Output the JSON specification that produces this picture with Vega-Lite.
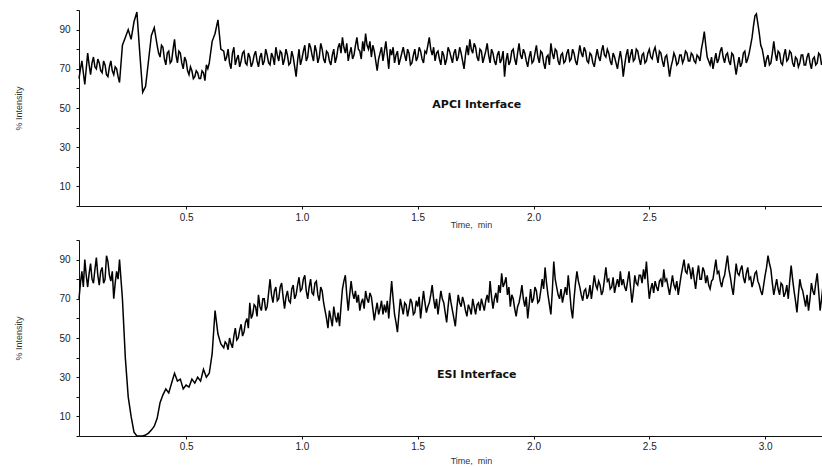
{
"$schema": "https://vega.github.io/schema/vega-lite/v6.json",
"background": "white",
"padding": {"left": 14, "top": 5, "right": 0, "bottom": 0},
"spacing": 6,
"config": {
 "view": {"stroke": null},
 "axis": {"grid": false, "domainColor": "#111", "tickColor": "#111", "domainWidth": 1, "tickWidth": 1, "tickSize": 3,
  "labelFont": "Liberation Sans", "labelFontSize": 10, "labelColor": "#222",
  "titleFont": "Liberation Sans", "titleFontWeight": "normal", "titleFontSize": 9, "titleColor": "#333"}
},
"datasets": {
"apci": [
{"t":0.0375,"v":65},{"t":0.04375,"v":70},{"t":0.05,"v":74},{"t":0.05625,"v":68},{"t":0.0625,"v":62},{"t":0.06875,"v":70},{"t":0.075,"v":78},{"t":0.08125,"v":72},{"t":0.0875,"v":67},{"t":0.09375,"v":73},
{"t":0.1,"v":76},{"t":0.10625,"v":71},{"t":0.1125,"v":70},{"t":0.11875,"v":75},{"t":0.125,"v":73},{"t":0.13125,"v":69},{"t":0.1375,"v":68},{"t":0.14375,"v":74},{"t":0.15,"v":72},{"t":0.15625,"v":67},
{"t":0.1625,"v":66},{"t":0.16875,"v":71},{"t":0.175,"v":74},{"t":0.18125,"v":69},{"t":0.1875,"v":67},{"t":0.19375,"v":71},{"t":0.2,"v":70},{"t":0.20625,"v":66},{"t":0.2125,"v":63},
{"t":0.225,"v":82},{"t":0.2375,"v":86},{"t":0.25,"v":90},{"t":0.2625,"v":85},{"t":0.275,"v":94},
{"t":0.2875,"v":99},{"t":0.3,"v":78},{"t":0.3125,"v":58},{"t":0.325,"v":61},{"t":0.3375,"v":74},{"t":0.35,"v":87},{"t":0.3625,"v":91},
{"t":0.375,"v":82},{"t":0.38125,"v":78},{"t":0.3875,"v":76},{"t":0.39375,"v":82},{"t":0.4,"v":81},{"t":0.40625,"v":75},{"t":0.4125,"v":72},{"t":0.41875,"v":78},{"t":0.425,"v":79},{"t":0.43125,"v":73},
{"t":0.4375,"v":74},{"t":0.44375,"v":80},{"t":0.45,"v":85},{"t":0.45625,"v":77},{"t":0.4625,"v":73},{"t":0.46875,"v":79},{"t":0.475,"v":78},{"t":0.48125,"v":73},{"t":0.4875,"v":70},{"t":0.49375,"v":76},
{"t":0.5,"v":74},{"t":0.50625,"v":69},{"t":0.5125,"v":67},{"t":0.51875,"v":71},{"t":0.525,"v":69},{"t":0.53125,"v":65},{"t":0.5375,"v":66},{"t":0.54375,"v":69},{"t":0.55,"v":68},{"t":0.55625,"v":65},
{"t":0.5625,"v":65},{"t":0.56875,"v":69},{"t":0.575,"v":68},{"t":0.58125,"v":64},{"t":0.5875,"v":72},{"t":0.59375,"v":70},{"t":0.6,"v":73},
{"t":0.6125,"v":84},{"t":0.625,"v":88},{"t":0.6375,"v":95},{"t":0.65,"v":80},
{"t":0.6625,"v":79},{"t":0.66875,"v":74},{"t":0.675,"v":76},{"t":0.68125,"v":80},{"t":0.6875,"v":73},{"t":0.69375,"v":70},{"t":0.7,"v":78},{"t":0.70625,"v":81},{"t":0.7125,"v":72},{"t":0.71875,"v":75},
{"t":0.725,"v":77},{"t":0.73125,"v":71},{"t":0.7375,"v":74},{"t":0.74375,"v":78},{"t":0.75,"v":79},{"t":0.75625,"v":73},{"t":0.7625,"v":72},{"t":0.76875,"v":78},{"t":0.775,"v":76},{"t":0.78125,"v":71},
{"t":0.7875,"v":73},{"t":0.79375,"v":77},{"t":0.8,"v":79},{"t":0.80625,"v":74},{"t":0.8125,"v":71},{"t":0.81875,"v":76},{"t":0.825,"v":78},{"t":0.83125,"v":72},{"t":0.8375,"v":74},{"t":0.84375,"v":80},
{"t":0.85,"v":77},{"t":0.85625,"v":73},{"t":0.8625,"v":72},{"t":0.86875,"v":78},{"t":0.875,"v":76},{"t":0.88125,"v":72},{"t":0.8875,"v":81},{"t":0.89375,"v":77},{"t":0.9,"v":74},{"t":0.90625,"v":79},
{"t":0.9125,"v":78},{"t":0.91875,"v":72},{"t":0.925,"v":75},{"t":0.93125,"v":80},{"t":0.9375,"v":77},{"t":0.94375,"v":72},{"t":0.95,"v":73},{"t":0.95625,"v":79},{"t":0.9625,"v":76},{"t":0.96875,"v":71},
{"t":0.975,"v":66},{"t":0.98125,"v":74},{"t":0.9875,"v":80},{"t":0.99375,"v":72},{"t":1.0,"v":75},{"t":1.00625,"v":79},{"t":1.0125,"v":82},{"t":1.01875,"v":74},{"t":1.025,"v":76},{"t":1.03125,"v":83},
{"t":1.0375,"v":81},{"t":1.04375,"v":77},{"t":1.05,"v":74},{"t":1.05625,"v":82},{"t":1.0625,"v":79},{"t":1.06875,"v":73},{"t":1.075,"v":76},{"t":1.08125,"v":83},{"t":1.0875,"v":80},{"t":1.09375,"v":75},
{"t":1.1,"v":73},{"t":1.10625,"v":79},{"t":1.1125,"v":78},{"t":1.11875,"v":74},{"t":1.125,"v":72},{"t":1.13125,"v":77},{"t":1.1375,"v":80},{"t":1.14375,"v":73},{"t":1.15,"v":76},{"t":1.15625,"v":81},
{"t":1.1625,"v":83},{"t":1.16875,"v":78},{"t":1.175,"v":86},{"t":1.18125,"v":81},{"t":1.1875,"v":78},{"t":1.19375,"v":83},{"t":1.2,"v":74},{"t":1.20625,"v":78},{"t":1.2125,"v":81},{"t":1.21875,"v":75},
{"t":1.225,"v":77},{"t":1.23125,"v":82},{"t":1.2375,"v":86},{"t":1.24375,"v":80},{"t":1.25,"v":79},{"t":1.25625,"v":75},{"t":1.2625,"v":84},{"t":1.26875,"v":79},{"t":1.275,"v":88},{"t":1.28125,"v":82},
{"t":1.2875,"v":80},{"t":1.29375,"v":84},{"t":1.3,"v":76},{"t":1.30625,"v":82},{"t":1.3125,"v":79},{"t":1.31875,"v":74},{"t":1.325,"v":69},{"t":1.33125,"v":75},{"t":1.3375,"v":78},{"t":1.34375,"v":81},
{"t":1.35,"v":74},{"t":1.35625,"v":79},{"t":1.3625,"v":84},{"t":1.36875,"v":77},{"t":1.375,"v":70},{"t":1.38125,"v":80},{"t":1.3875,"v":77},{"t":1.39375,"v":81},{"t":1.4,"v":73},{"t":1.40625,"v":77},
{"t":1.4125,"v":79},{"t":1.41875,"v":72},{"t":1.425,"v":75},{"t":1.43125,"v":78},{"t":1.4375,"v":81},{"t":1.44375,"v":77},{"t":1.45,"v":74},{"t":1.45625,"v":80},{"t":1.4625,"v":78},{"t":1.46875,"v":72},
{"t":1.475,"v":73},{"t":1.48125,"v":77},{"t":1.4875,"v":80},{"t":1.49375,"v":74},{"t":1.5,"v":76},{"t":1.50625,"v":81},{"t":1.5125,"v":79},{"t":1.51875,"v":75},{"t":1.525,"v":73},{"t":1.53125,"v":79},
{"t":1.5375,"v":78},{"t":1.54375,"v":82},{"t":1.55,"v":86},{"t":1.55625,"v":80},{"t":1.5625,"v":77},{"t":1.56875,"v":81},{"t":1.575,"v":74},{"t":1.58125,"v":78},{"t":1.5875,"v":79},{"t":1.59375,"v":75},
{"t":1.6,"v":72},{"t":1.60625,"v":79},{"t":1.6125,"v":77},{"t":1.61875,"v":72},{"t":1.625,"v":75},{"t":1.63125,"v":81},{"t":1.6375,"v":79},{"t":1.64375,"v":76},{"t":1.65,"v":73},{"t":1.65625,"v":78},
{"t":1.6625,"v":80},{"t":1.66875,"v":74},{"t":1.675,"v":76},{"t":1.68125,"v":81},{"t":1.6875,"v":78},{"t":1.69375,"v":74},{"t":1.7,"v":70},{"t":1.70625,"v":77},{"t":1.7125,"v":82},{"t":1.71875,"v":77},
{"t":1.725,"v":85},{"t":1.73125,"v":80},{"t":1.7375,"v":78},{"t":1.74375,"v":83},{"t":1.75,"v":81},{"t":1.75625,"v":76},{"t":1.7625,"v":74},{"t":1.76875,"v":80},{"t":1.775,"v":79},{"t":1.78125,"v":73},
{"t":1.7875,"v":76},{"t":1.79375,"v":79},{"t":1.8,"v":83},{"t":1.80625,"v":77},{"t":1.8125,"v":73},{"t":1.81875,"v":80},{"t":1.825,"v":78},{"t":1.83125,"v":74},{"t":1.8375,"v":72},{"t":1.84375,"v":77},
{"t":1.85,"v":79},{"t":1.85625,"v":73},{"t":1.8625,"v":75},{"t":1.86875,"v":79},{"t":1.875,"v":66},{"t":1.88125,"v":74},{"t":1.8875,"v":78},{"t":1.89375,"v":72},{"t":1.9,"v":74},{"t":1.90625,"v":79},
{"t":1.9125,"v":80},{"t":1.91875,"v":75},{"t":1.925,"v":72},{"t":1.93125,"v":78},{"t":1.9375,"v":83},{"t":1.94375,"v":77},{"t":1.95,"v":75},{"t":1.95625,"v":80},{"t":1.9625,"v":78},{"t":1.96875,"v":74},
{"t":1.975,"v":71},{"t":1.98125,"v":76},{"t":1.9875,"v":79},{"t":1.99375,"v":73},{"t":2.0,"v":74},{"t":2.00625,"v":78},{"t":2.0125,"v":82},{"t":2.01875,"v":76},{"t":2.025,"v":73},{"t":2.03125,"v":79},
{"t":2.0375,"v":78},{"t":2.04375,"v":73},{"t":2.05,"v":70},{"t":2.05625,"v":76},{"t":2.0625,"v":77},{"t":2.06875,"v":72},{"t":2.075,"v":83},{"t":2.08125,"v":78},{"t":2.0875,"v":75},{"t":2.09375,"v":80},
{"t":2.1,"v":79},{"t":2.10625,"v":74},{"t":2.1125,"v":72},{"t":2.11875,"v":77},{"t":2.125,"v":78},{"t":2.13125,"v":73},{"t":2.1375,"v":74},{"t":2.14375,"v":78},{"t":2.15,"v":80},{"t":2.15625,"v":74},
{"t":2.1625,"v":75},{"t":2.16875,"v":80},{"t":2.175,"v":78},{"t":2.18125,"v":74},{"t":2.1875,"v":72},{"t":2.19375,"v":77},{"t":2.2,"v":82},{"t":2.20625,"v":78},{"t":2.2125,"v":76},{"t":2.21875,"v":81},
{"t":2.225,"v":79},{"t":2.23125,"v":74},{"t":2.2375,"v":73},{"t":2.24375,"v":78},{"t":2.25,"v":77},{"t":2.25625,"v":73},{"t":2.2625,"v":71},{"t":2.26875,"v":76},{"t":2.275,"v":80},{"t":2.28125,"v":76},
{"t":2.2875,"v":74},{"t":2.29375,"v":79},{"t":2.3,"v":82},{"t":2.30625,"v":77},{"t":2.3125,"v":76},{"t":2.31875,"v":80},{"t":2.325,"v":78},{"t":2.33125,"v":74},{"t":2.3375,"v":72},{"t":2.34375,"v":78},
{"t":2.35,"v":76},{"t":2.35625,"v":73},{"t":2.3625,"v":70},{"t":2.36875,"v":75},{"t":2.375,"v":79},{"t":2.38125,"v":74},{"t":2.3875,"v":66},{"t":2.39375,"v":72},{"t":2.4,"v":77},{"t":2.40625,"v":80},
{"t":2.4125,"v":73},{"t":2.41875,"v":77},{"t":2.425,"v":80},{"t":2.43125,"v":74},{"t":2.4375,"v":75},{"t":2.44375,"v":80},{"t":2.45,"v":79},{"t":2.45625,"v":75},{"t":2.4625,"v":72},{"t":2.46875,"v":77},
{"t":2.475,"v":78},{"t":2.48125,"v":73},{"t":2.4875,"v":74},{"t":2.49375,"v":78},{"t":2.5,"v":80},{"t":2.50625,"v":76},{"t":2.5125,"v":75},{"t":2.51875,"v":79},{"t":2.525,"v":81},{"t":2.53125,"v":77},
{"t":2.5375,"v":73},{"t":2.54375,"v":79},{"t":2.55,"v":78},{"t":2.55625,"v":74},{"t":2.5625,"v":71},{"t":2.56875,"v":76},{"t":2.575,"v":77},{"t":2.58125,"v":72},{"t":2.5875,"v":66},{"t":2.59375,"v":71},
{"t":2.6,"v":74},{"t":2.60625,"v":78},{"t":2.6125,"v":76},{"t":2.61875,"v":72},{"t":2.625,"v":73},{"t":2.63125,"v":77},{"t":2.6375,"v":77},{"t":2.64375,"v":73},{"t":2.65,"v":75},{"t":2.65625,"v":79},
{"t":2.6625,"v":78},{"t":2.66875,"v":74},{"t":2.675,"v":74},{"t":2.68125,"v":78},{"t":2.6875,"v":77},{"t":2.69375,"v":74},{"t":2.7,"v":73},{"t":2.70625,"v":77},{"t":2.7125,"v":76},{"t":2.71875,"v":74},
{"t":2.725,"v":80},{"t":2.73125,"v":84},{"t":2.7375,"v":89},{"t":2.74375,"v":82},{"t":2.75,"v":76},{"t":2.75625,"v":74},{"t":2.7625,"v":72},{"t":2.76875,"v":76},{"t":2.775,"v":70},{"t":2.78125,"v":74},
{"t":2.7875,"v":78},{"t":2.79375,"v":73},{"t":2.8,"v":75},{"t":2.80625,"v":79},{"t":2.8125,"v":81},{"t":2.81875,"v":76},{"t":2.825,"v":73},{"t":2.83125,"v":77},{"t":2.8375,"v":78},{"t":2.84375,"v":74},
{"t":2.85,"v":72},{"t":2.85625,"v":78},{"t":2.8625,"v":77},{"t":2.86875,"v":72},{"t":2.875,"v":67},{"t":2.88125,"v":72},{"t":2.8875,"v":76},{"t":2.89375,"v":71},{"t":2.9,"v":73},{"t":2.90625,"v":78},
{"t":2.9125,"v":79},{"t":2.91875,"v":73},{"t":2.925,"v":75},{"t":2.93125,"v":78},{"t":2.9375,"v":82},{"t":2.94375,"v":86},{"t":2.95,"v":92},{"t":2.95625,"v":97},{"t":2.9625,"v":98},{"t":2.96875,"v":93},
{"t":2.975,"v":88},{"t":2.98125,"v":82},{"t":2.9875,"v":80},{"t":2.99375,"v":76},{"t":3.0,"v":71},{"t":3.00625,"v":75},{"t":3.0125,"v":77},{"t":3.01875,"v":72},{"t":3.025,"v":73},{"t":3.03125,"v":78},
{"t":3.0375,"v":84},{"t":3.04375,"v":78},{"t":3.05,"v":74},{"t":3.05625,"v":79},{"t":3.0625,"v":78},{"t":3.06875,"v":73},{"t":3.075,"v":72},{"t":3.08125,"v":77},{"t":3.0875,"v":80},{"t":3.09375,"v":74},
{"t":3.1,"v":75},{"t":3.10625,"v":79},{"t":3.1125,"v":78},{"t":3.11875,"v":73},{"t":3.125,"v":71},{"t":3.13125,"v":76},{"t":3.1375,"v":75},{"t":3.14375,"v":71},{"t":3.15,"v":73},{"t":3.15625,"v":77},
{"t":3.1625,"v":77},{"t":3.16875,"v":72},{"t":3.175,"v":72},{"t":3.18125,"v":76},{"t":3.1875,"v":78},{"t":3.19375,"v":73},{"t":3.2,"v":70},{"t":3.20625,"v":75},{"t":3.2125,"v":76},{"t":3.21875,"v":72},
{"t":3.225,"v":73},{"t":3.23125,"v":78},{"t":3.2375,"v":77},{"t":3.24375,"v":72},{"t":3.25,"v":74}
],
"esi": [
{"t":0.0375,"v":70},{"t":0.04375,"v":78},{"t":0.05,"v":84},{"t":0.05625,"v":76},{"t":0.0625,"v":90},{"t":0.06875,"v":82},{"t":0.075,"v":76},{"t":0.08125,"v":83},{"t":0.0875,"v":88},{"t":0.09375,"v":80},
{"t":0.1,"v":78},{"t":0.10625,"v":85},{"t":0.1125,"v":91},{"t":0.11875,"v":82},{"t":0.125,"v":77},{"t":0.13125,"v":84},{"t":0.1375,"v":86},{"t":0.14375,"v":78},{"t":0.15,"v":80},{"t":0.15625,"v":92},
{"t":0.1625,"v":89},{"t":0.16875,"v":82},{"t":0.175,"v":79},{"t":0.18125,"v":84},{"t":0.1875,"v":70},{"t":0.19375,"v":78},{"t":0.2,"v":84},{"t":0.20625,"v":80},{"t":0.2125,"v":90},
{"t":0.225,"v":70},{"t":0.2375,"v":40},{"t":0.25,"v":20},{"t":0.2625,"v":10},{"t":0.275,"v":2},
{"t":0.2875,"v":0},{"t":0.3,"v":0},{"t":0.3125,"v":0},{"t":0.325,"v":0.5},{"t":0.3375,"v":1.5},{"t":0.35,"v":3},{"t":0.3625,"v":5},{"t":0.375,"v":9},{"t":0.3875,"v":17},{"t":0.4,"v":21},
{"t":0.4125,"v":24},{"t":0.425,"v":22},{"t":0.4375,"v":27},{"t":0.45,"v":32},{"t":0.4625,"v":28},{"t":0.475,"v":29},{"t":0.4875,"v":24},{"t":0.5,"v":26},{"t":0.5125,"v":25},{"t":0.525,"v":29},
{"t":0.5375,"v":27},{"t":0.55,"v":30},{"t":0.5625,"v":28},{"t":0.575,"v":34},{"t":0.5875,"v":30},{"t":0.6,"v":32},{"t":0.6125,"v":42},{"t":0.625,"v":64},{"t":0.6375,"v":52},{"t":0.65,"v":47},
{"t":0.6625,"v":45},{"t":0.66875,"v":48},{"t":0.675,"v":47},{"t":0.68125,"v":44},{"t":0.6875,"v":50},{"t":0.69375,"v":47},{"t":0.7,"v":45},{"t":0.70625,"v":51},{"t":0.7125,"v":55},{"t":0.71875,"v":49},
{"t":0.725,"v":50},{"t":0.73125,"v":54},{"t":0.7375,"v":57},{"t":0.74375,"v":51},{"t":0.75,"v":53},{"t":0.75625,"v":58},{"t":0.7625,"v":60},{"t":0.76875,"v":55},{"t":0.775,"v":68},{"t":0.78125,"v":60},
{"t":0.7875,"v":62},{"t":0.79375,"v":67},{"t":0.8,"v":66},{"t":0.80625,"v":61},{"t":0.8125,"v":72},{"t":0.81875,"v":66},{"t":0.825,"v":64},{"t":0.83125,"v":70},{"t":0.8375,"v":70},{"t":0.84375,"v":64},
{"t":0.85,"v":66},{"t":0.85625,"v":73},{"t":0.8625,"v":80},{"t":0.86875,"v":72},{"t":0.875,"v":68},{"t":0.88125,"v":74},{"t":0.8875,"v":76},{"t":0.89375,"v":69},{"t":0.9,"v":70},{"t":0.90625,"v":76},
{"t":0.9125,"v":78},{"t":0.91875,"v":71},{"t":0.925,"v":65},{"t":0.93125,"v":71},{"t":0.9375,"v":74},{"t":0.94375,"v":69},{"t":0.95,"v":68},{"t":0.95625,"v":75},{"t":0.9625,"v":77},{"t":0.96875,"v":70},
{"t":0.975,"v":72},{"t":0.98125,"v":77},{"t":0.9875,"v":81},{"t":0.99375,"v":74},{"t":1.0,"v":75},{"t":1.00625,"v":80},{"t":1.0125,"v":82},{"t":1.01875,"v":74},{"t":1.025,"v":70},{"t":1.03125,"v":76},
{"t":1.0375,"v":80},{"t":1.04375,"v":73},{"t":1.05,"v":72},{"t":1.05625,"v":78},{"t":1.0625,"v":79},{"t":1.06875,"v":72},{"t":1.075,"v":69},{"t":1.08125,"v":76},{"t":1.0875,"v":74},{"t":1.09375,"v":68},
{"t":1.1,"v":64},{"t":1.10625,"v":60},{"t":1.1125,"v":55},{"t":1.11875,"v":64},{"t":1.125,"v":60},{"t":1.13125,"v":56},{"t":1.1375,"v":66},{"t":1.14375,"v":61},{"t":1.15,"v":58},{"t":1.15625,"v":63},
{"t":1.1625,"v":56},{"t":1.16875,"v":66},{"t":1.175,"v":75},{"t":1.18125,"v":79},{"t":1.1875,"v":82},{"t":1.19375,"v":72},{"t":1.2,"v":64},{"t":1.20625,"v":72},{"t":1.2125,"v":79},{"t":1.21875,"v":73},
{"t":1.225,"v":70},{"t":1.23125,"v":74},{"t":1.2375,"v":68},{"t":1.24375,"v":72},{"t":1.25,"v":64},{"t":1.25625,"v":68},{"t":1.2625,"v":70},{"t":1.26875,"v":65},{"t":1.275,"v":74},{"t":1.28125,"v":70},
{"t":1.2875,"v":68},{"t":1.29375,"v":73},{"t":1.3,"v":71},{"t":1.30625,"v":65},{"t":1.3125,"v":59},{"t":1.31875,"v":64},{"t":1.325,"v":68},{"t":1.33125,"v":62},{"t":1.3375,"v":65},{"t":1.34375,"v":69},
{"t":1.35,"v":62},{"t":1.35625,"v":67},{"t":1.3625,"v":63},{"t":1.36875,"v":69},{"t":1.375,"v":60},{"t":1.38125,"v":70},{"t":1.3875,"v":79},{"t":1.39375,"v":70},{"t":1.4,"v":62},{"t":1.40625,"v":58},
{"t":1.4125,"v":53},{"t":1.41875,"v":62},{"t":1.425,"v":70},{"t":1.43125,"v":66},{"t":1.4375,"v":62},{"t":1.44375,"v":68},{"t":1.45,"v":67},{"t":1.45625,"v":61},{"t":1.4625,"v":65},{"t":1.46875,"v":70},
{"t":1.475,"v":68},{"t":1.48125,"v":62},{"t":1.4875,"v":63},{"t":1.49375,"v":69},{"t":1.5,"v":66},{"t":1.50625,"v":71},{"t":1.5125,"v":60},{"t":1.51875,"v":67},{"t":1.525,"v":74},{"t":1.53125,"v":68},
{"t":1.5375,"v":63},{"t":1.54375,"v":66},{"t":1.55,"v":68},{"t":1.55625,"v":72},{"t":1.5625,"v":77},{"t":1.56875,"v":70},{"t":1.575,"v":65},{"t":1.58125,"v":70},{"t":1.5875,"v":62},{"t":1.59375,"v":68},
{"t":1.6,"v":74},{"t":1.60625,"v":70},{"t":1.6125,"v":68},{"t":1.61875,"v":63},{"t":1.625,"v":58},{"t":1.63125,"v":66},{"t":1.6375,"v":73},{"t":1.64375,"v":68},{"t":1.65,"v":64},{"t":1.65625,"v":60},
{"t":1.6625,"v":56},{"t":1.66875,"v":65},{"t":1.675,"v":72},{"t":1.68125,"v":68},{"t":1.6875,"v":66},{"t":1.69375,"v":71},{"t":1.7,"v":68},{"t":1.70625,"v":64},{"t":1.7125,"v":61},{"t":1.71875,"v":67},
{"t":1.725,"v":65},{"t":1.73125,"v":62},{"t":1.7375,"v":70},{"t":1.74375,"v":66},{"t":1.75,"v":62},{"t":1.75625,"v":67},{"t":1.7625,"v":68},{"t":1.76875,"v":64},{"t":1.775,"v":70},{"t":1.78125,"v":67},
{"t":1.7875,"v":64},{"t":1.79375,"v":69},{"t":1.8,"v":72},{"t":1.80625,"v":68},{"t":1.8125,"v":79},{"t":1.81875,"v":71},{"t":1.825,"v":65},{"t":1.83125,"v":70},{"t":1.8375,"v":73},{"t":1.84375,"v":68},
{"t":1.85,"v":77},{"t":1.85625,"v":73},{"t":1.8625,"v":83},{"t":1.86875,"v":76},{"t":1.875,"v":78},{"t":1.88125,"v":81},{"t":1.8875,"v":72},{"t":1.89375,"v":76},{"t":1.9,"v":66},{"t":1.90625,"v":72},
{"t":1.9125,"v":70},{"t":1.91875,"v":65},{"t":1.925,"v":61},{"t":1.93125,"v":66},{"t":1.9375,"v":68},{"t":1.94375,"v":72},{"t":1.95,"v":77},{"t":1.95625,"v":70},{"t":1.9625,"v":66},{"t":1.96875,"v":71},
{"t":1.975,"v":60},{"t":1.98125,"v":67},{"t":1.9875,"v":75},{"t":1.99375,"v":68},{"t":2.0,"v":70},{"t":2.00625,"v":76},{"t":2.0125,"v":74},{"t":2.01875,"v":68},{"t":2.025,"v":69},{"t":2.03125,"v":74},
{"t":2.0375,"v":80},{"t":2.04375,"v":75},{"t":2.05,"v":86},{"t":2.05625,"v":78},{"t":2.0625,"v":72},{"t":2.06875,"v":67},{"t":2.075,"v":62},{"t":2.08125,"v":74},{"t":2.0875,"v":89},{"t":2.09375,"v":80},
{"t":2.1,"v":76},{"t":2.10625,"v":72},{"t":2.1125,"v":70},{"t":2.11875,"v":75},{"t":2.125,"v":68},{"t":2.13125,"v":72},{"t":2.1375,"v":76},{"t":2.14375,"v":72},{"t":2.15,"v":82},{"t":2.15625,"v":74},
{"t":2.1625,"v":65},{"t":2.16875,"v":60},{"t":2.175,"v":70},{"t":2.18125,"v":78},{"t":2.1875,"v":84},{"t":2.19375,"v":79},{"t":2.2,"v":76},{"t":2.20625,"v":72},{"t":2.2125,"v":69},{"t":2.21875,"v":74},
{"t":2.225,"v":75},{"t":2.23125,"v":70},{"t":2.2375,"v":72},{"t":2.24375,"v":77},{"t":2.25,"v":70},{"t":2.25625,"v":76},{"t":2.2625,"v":82},{"t":2.26875,"v":77},{"t":2.275,"v":75},{"t":2.28125,"v":79},
{"t":2.2875,"v":77},{"t":2.29375,"v":72},{"t":2.3,"v":74},{"t":2.30625,"v":80},{"t":2.3125,"v":86},{"t":2.31875,"v":79},{"t":2.325,"v":80},{"t":2.33125,"v":75},{"t":2.3375,"v":76},{"t":2.34375,"v":81},
{"t":2.35,"v":73},{"t":2.35625,"v":77},{"t":2.3625,"v":80},{"t":2.36875,"v":76},{"t":2.375,"v":84},{"t":2.38125,"v":77},{"t":2.3875,"v":80},{"t":2.39375,"v":76},{"t":2.4,"v":74},{"t":2.40625,"v":79},
{"t":2.4125,"v":84},{"t":2.41875,"v":76},{"t":2.425,"v":68},{"t":2.43125,"v":74},{"t":2.4375,"v":82},{"t":2.44375,"v":78},{"t":2.45,"v":77},{"t":2.45625,"v":82},{"t":2.4625,"v":82},{"t":2.46875,"v":78},
{"t":2.475,"v":85},{"t":2.48125,"v":80},{"t":2.4875,"v":89},{"t":2.49375,"v":79},{"t":2.5,"v":70},{"t":2.50625,"v":75},{"t":2.5125,"v":78},{"t":2.51875,"v":73},{"t":2.525,"v":79},{"t":2.53125,"v":76},
{"t":2.5375,"v":74},{"t":2.54375,"v":79},{"t":2.55,"v":80},{"t":2.55625,"v":76},{"t":2.5625,"v":85},{"t":2.56875,"v":79},{"t":2.575,"v":80},{"t":2.58125,"v":76},{"t":2.5875,"v":72},{"t":2.59375,"v":77},
{"t":2.6,"v":82},{"t":2.60625,"v":77},{"t":2.6125,"v":75},{"t":2.61875,"v":79},{"t":2.625,"v":72},{"t":2.63125,"v":77},{"t":2.6375,"v":82},{"t":2.64375,"v":86},{"t":2.65,"v":90},{"t":2.65625,"v":84},
{"t":2.6625,"v":83},{"t":2.66875,"v":88},{"t":2.675,"v":85},{"t":2.68125,"v":80},{"t":2.6875,"v":86},{"t":2.69375,"v":80},{"t":2.7,"v":75},{"t":2.70625,"v":82},{"t":2.7125,"v":87},{"t":2.71875,"v":80},
{"t":2.725,"v":80},{"t":2.73125,"v":86},{"t":2.7375,"v":84},{"t":2.74375,"v":78},{"t":2.75,"v":82},{"t":2.75625,"v":77},{"t":2.7625,"v":75},{"t":2.76875,"v":79},{"t":2.775,"v":80},{"t":2.78125,"v":85},
{"t":2.7875,"v":90},{"t":2.79375,"v":83},{"t":2.8,"v":84},{"t":2.80625,"v":79},{"t":2.8125,"v":76},{"t":2.81875,"v":80},{"t":2.825,"v":82},{"t":2.83125,"v":87},{"t":2.8375,"v":92},{"t":2.84375,"v":85},
{"t":2.85,"v":81},{"t":2.85625,"v":76},{"t":2.8625,"v":72},{"t":2.86875,"v":80},{"t":2.875,"v":88},{"t":2.88125,"v":83},{"t":2.8875,"v":82},{"t":2.89375,"v":85},{"t":2.9,"v":87},{"t":2.90625,"v":81},
{"t":2.9125,"v":78},{"t":2.91875,"v":83},{"t":2.925,"v":86},{"t":2.93125,"v":80},{"t":2.9375,"v":81},{"t":2.94375,"v":76},{"t":2.95,"v":79},{"t":2.95625,"v":83},{"t":2.9625,"v":84},{"t":2.96875,"v":79},
{"t":2.975,"v":77},{"t":2.98125,"v":74},{"t":2.9875,"v":72},{"t":2.99375,"v":77},{"t":3.0,"v":82},{"t":3.00625,"v":86},{"t":3.0125,"v":92},{"t":3.01875,"v":88},{"t":3.025,"v":85},{"t":3.03125,"v":78},
{"t":3.0375,"v":72},{"t":3.04375,"v":76},{"t":3.05,"v":80},{"t":3.05625,"v":75},{"t":3.0625,"v":72},{"t":3.06875,"v":78},{"t":3.075,"v":77},{"t":3.08125,"v":71},{"t":3.0875,"v":73},{"t":3.09375,"v":77},
{"t":3.1,"v":70},{"t":3.10625,"v":79},{"t":3.1125,"v":87},{"t":3.11875,"v":80},{"t":3.125,"v":74},{"t":3.13125,"v":69},{"t":3.1375,"v":63},{"t":3.14375,"v":72},{"t":3.15,"v":80},{"t":3.15625,"v":76},
{"t":3.1625,"v":74},{"t":3.16875,"v":70},{"t":3.175,"v":66},{"t":3.18125,"v":72},{"t":3.1875,"v":64},{"t":3.19375,"v":70},{"t":3.2,"v":78},{"t":3.20625,"v":74},{"t":3.2125,"v":72},{"t":3.21875,"v":78},
{"t":3.225,"v":83},{"t":3.23125,"v":74},{"t":3.2375,"v":64},{"t":3.24375,"v":70},{"t":3.25,"v":77}
]
},
"vconcat": [
{
 "width": 744, "height": 196,
 "encoding": {
  "x": {"field": "t", "type": "quantitative", "scale": {"domain": [0.0375, 3.25], "nice": false, "zero": false},
        "axis": {"values": [0.5, 1, 1.5, 2, 2.5, 3], "format": ".1f", "labelExpr": "datum.value == 3 ? '' : datum.label", "labelPadding": 3, "title": "Time,\u00a0 min", "titleX": 392, "titleY": 18, "titleBaseline": "middle", "titleAlign": "center"}},
  "y": {"field": "v", "type": "quantitative", "scale": {"domain": [0, 100], "nice": false},
        "axis": {"values": [0,10,20,30,40,50,60,70,80,90,100], "labelExpr": "datum.value % 20 == 10 ? datum.label : ''", "labelOverlap": false, "labelPadding": 6, "title": "% Intensity", "titlePadding": 35}}
 },
 "layer": [
  {"data": {"name": "apci"},
   "mark": {"type": "line", "color": "#000", "strokeWidth": 1.5}},
  {"data": {"values": [{"t": 1.755, "v": 51.5, "label": "APCI Interface"}]},
   "mark": {"type": "text", "font": "DejaVu Sans", "fontWeight": "bold", "fontSize": 11, "color": "#111"},
   "encoding": {"text": {"field": "label"}}}
 ]
},
{
 "width": 744, "height": 196,
 "encoding": {
  "x": {"field": "t", "type": "quantitative", "scale": {"domain": [0.0375, 3.25], "nice": false, "zero": false},
        "axis": {"values": [0.5, 1, 1.5, 2, 2.5, 3], "format": ".1f", "labelPadding": 2, "title": "Time,\u00a0 min", "titleX": 392, "titleY": 24, "titleBaseline": "middle", "titleAlign": "center"}},
  "y": {"field": "v", "type": "quantitative", "scale": {"domain": [0, 100], "nice": false},
        "axis": {"values": [0,10,20,30,40,50,60,70,80,90,100], "labelExpr": "datum.value % 20 == 10 ? datum.label : ''", "labelOverlap": false, "labelPadding": 6, "title": "% Intensity", "titlePadding": 35}}
 },
 "layer": [
  {"data": {"name": "esi"},
   "mark": {"type": "line", "color": "#000", "strokeWidth": 1.5}},
  {"data": {"values": [{"t": 1.755, "v": 31, "label": "ESI Interface"}]},
   "mark": {"type": "text", "font": "DejaVu Sans", "fontWeight": "bold", "fontSize": 11, "color": "#111"},
   "encoding": {"text": {"field": "label"}}}
 ]
}
]
}
